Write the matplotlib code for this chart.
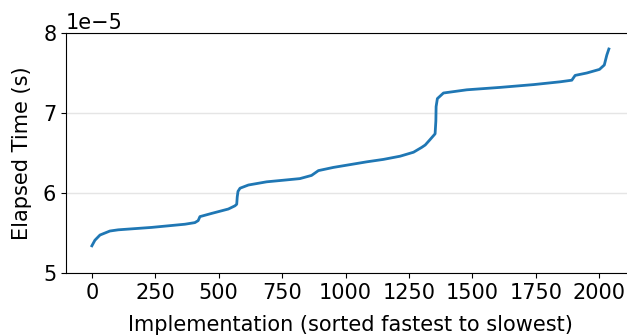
import matplotlib
matplotlib.use("Agg")
import matplotlib.pyplot as plt
import numpy as np

# Implementation index (sorted fastest to slowest) and elapsed time
implementation = [0, 12, 32, 71, 104, 235, 367, 406, 419, 426, 472, 538, 564, 571, 573, 576, 584,
                  617, 689, 755, 820, 866, 893, 952, 1018, 1084, 1149, 1215, 1268, 1300, 1314,
                  1331, 1353, 1356, 1357, 1362, 1386, 1478, 1609, 1741, 1846, 1892, 1905, 1951,
                  2001, 2020, 2030, 2038]
elapsed_1e5 = [5.34, 5.41, 5.475, 5.525, 5.54, 5.57, 5.61, 5.63, 5.655, 5.705, 5.745, 5.80, 5.84,
               5.86, 5.95, 6.02, 6.06, 6.10, 6.14, 6.16, 6.18, 6.22, 6.28, 6.32, 6.355, 6.39,
               6.42, 6.46, 6.51, 6.57, 6.60, 6.66, 6.74, 6.90, 7.08, 7.18, 7.25, 7.29, 7.32,
               7.355, 7.39, 7.41, 7.47, 7.50, 7.545, 7.60, 7.725, 7.80]

elapsed = np.array(elapsed_1e5) * 1e-5

plt.rcParams['font.size'] = 15
fig = plt.figure(figsize=(6.27, 3.35), dpi=100)
ax = fig.add_axes([0.1053, 0.185, 0.907, 0.7165])

ax.plot(implementation, elapsed, color='#1f77b4', linewidth=2.0)
ax.set_ylim(5e-5, 8e-5)
ax.set_yticks([5e-5, 6e-5, 7e-5, 8e-5])
ax.set_xticks([0, 250, 500, 750, 1000, 1250, 1500, 1750, 2000])
ax.grid(axis='y', color='#e5e5e5', linewidth=1)
ax.set_axisbelow(True)
ax.spines['right'].set_visible(False)

ax.set_xlabel("Implementation (sorted fastest to slowest)", labelpad=8.5)
ax.set_ylabel("Elapsed Time (s)", labelpad=8)

fig.savefig("out.png", dpi=100)
